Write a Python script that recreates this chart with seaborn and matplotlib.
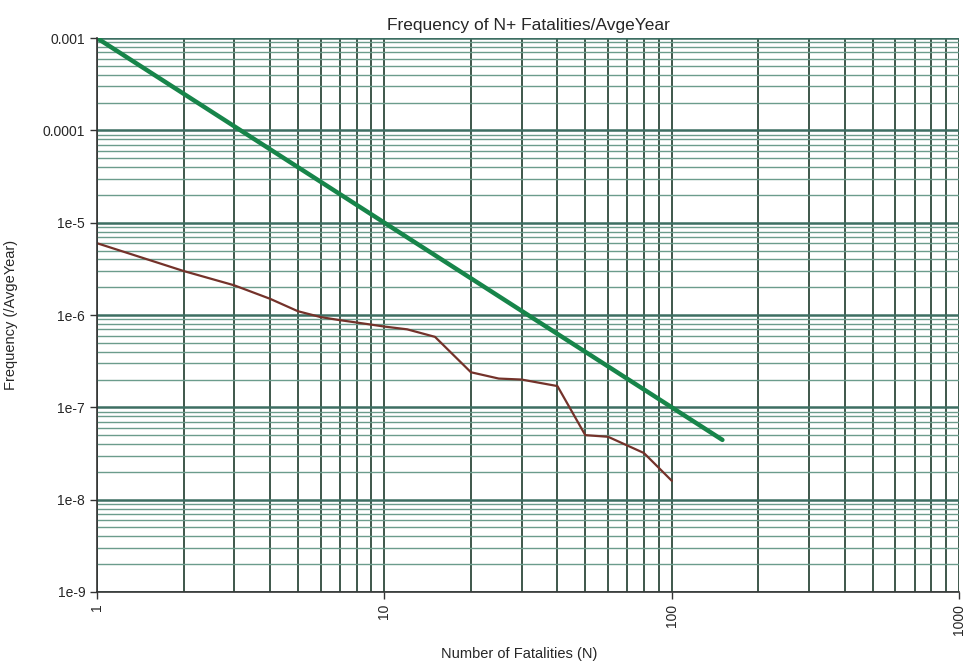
"""Curva F-N: frecuencia de N o más fatalidades por año promedio."""

import matplotlib

matplotlib.use("Agg")

import matplotlib.pyplot as plt
import matplotlib.ticker as mticker
import pandas as pd
import seaborn as sns

sns.set_theme(style="white")
plt.rcParams["font.family"] = ["Liberation Sans", "DejaVu Sans"]

# criterio (línea verde)
N_CRITERIO = [1, 150]
F_CRITERIO = [1e-3, 4.44e-8]

# curva calculada (línea marrón)
N_CURVA = [1, 2, 3, 4, 5, 6, 7, 8, 10, 12, 15, 20, 25, 30, 40, 50, 60, 80, 100]
F_CURVA = [6e-6, 3e-6, 2.1e-6, 1.5e-6, 1.1e-6, 9.5e-7, 8.8e-7, 8.3e-7, 7.5e-7,
           7e-7, 5.8e-7, 2.4e-7, 2.05e-7, 2e-7, 1.7e-7, 5e-8, 4.8e-8, 3.2e-8, 1.6e-8]

Y_TICKS = [1e-3, 1e-4, 1e-5, 1e-6, 1e-7, 1e-8, 1e-9]
Y_LABELS = ["0.001", "0.0001", "1e-5", "1e-6", "1e-7", "1e-8", "1e-9"]
X_TICKS = [1, 10, 100, 1000]
X_LABELS = ["1", "10", "100", "1000"]

criterio = pd.DataFrame({"N": N_CRITERIO, "F": F_CRITERIO})
curva = pd.DataFrame({"N": N_CURVA, "F": F_CURVA})

fig = plt.figure(figsize=(9.65, 6.68), dpi=100)
ax = fig.add_axes([0.1005, 0.1138, 0.8935, 0.8292])
ax.set_xscale("log")
ax.set_yscale("log")
ax.set_xlim(1, 1000)
ax.set_ylim(1e-9, 1e-3)

# rejilla tipo papel log-log
ax.xaxis.set_minor_locator(mticker.LogLocator(base=10, subs=range(2, 10)))
ax.yaxis.set_minor_locator(mticker.LogLocator(base=10, subs=range(2, 10)))
ax.grid(True, which="both", axis="x", color="#1e3b2c", linewidth=1.2)
ax.grid(True, which="major", axis="y", color="#3d6e62", linewidth=1.8)
ax.grid(True, which="minor", axis="y", color="#6b9c8c", linewidth=1.0)
ax.set_axisbelow(True)

sns.lineplot(data=criterio, x="N", y="F", ax=ax, color="#17854a", linewidth=3.2)
sns.lineplot(data=curva, x="N", y="F", ax=ax, color="#74322a", linewidth=1.6)

ax.set_xticks(X_TICKS, X_LABELS, rotation=90, fontsize=10)
ax.set_yticks(Y_TICKS, Y_LABELS, fontsize=10)
ax.tick_params(axis="both", which="major", length=5, width=1, direction="out",
               color="#333333", left=True, bottom=True)
ax.tick_params(axis="both", which="minor", length=0)
for lado in ["top", "right"]:
    ax.spines[lado].set_visible(False)
for lado in ["left", "bottom"]:
    ax.spines[lado].set_color("#333333")
    ax.spines[lado].set_linewidth(1.2)

ax.set_title("Frequency of N+ Fatalities/AvgeYear", fontsize=12.5, pad=6)
ax.set_xlabel("Number of Fatalities (N)", fontsize=10.5, va="center")
ax.xaxis.set_label_coords(0.49, -0.112)
ax.set_ylabel("Frequency (/AvgeYear)", fontsize=10.5, labelpad=18)

fig.savefig("out.png", dpi=100)
